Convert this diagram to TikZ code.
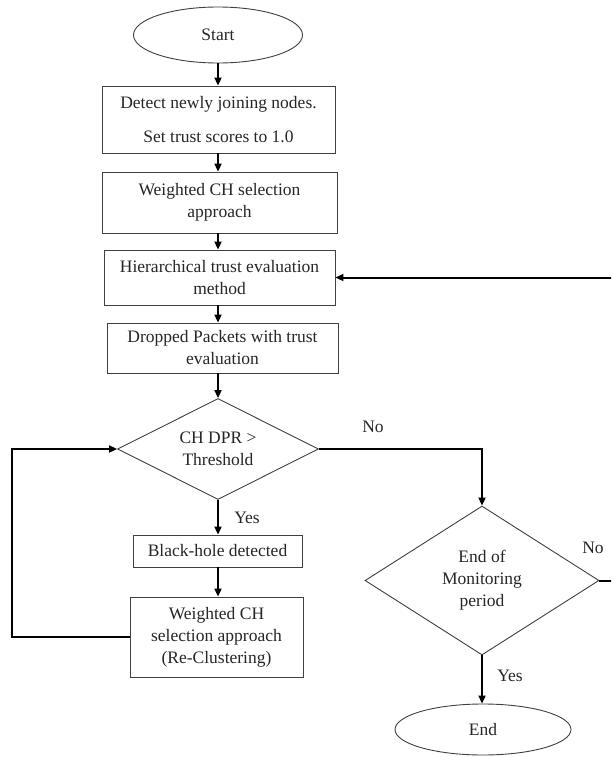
\documentclass[tikz,border=0pt]{standalone}
\usepackage{fontspec}
\setmainfont{Liberation Serif}
\usetikzlibrary{shapes.geometric,arrows.meta}
\begin{document}
\begin{tikzpicture}[x=1pt,y=-1pt,
  every node/.style={font=\fontsize{17.5}{22}\selectfont, text=black!85},
  procbox/.style={draw=black!75, line width=0.9pt, fill=white, rectangle, inner sep=0pt, align=center},
  termin/.style={draw=black!75, line width=0.9pt, fill=white, ellipse, inner sep=0pt},
  decide/.style={draw=black!75, line width=0.9pt, fill=white, diamond, aspect=2, inner sep=0pt, align=center},
  conn/.style={draw=black, line width=2pt, -{Triangle[length=8pt,width=7pt]}},
  lbl/.style={inner sep=0pt}]
\useasboundingbox (0,0) rectangle (611,757);
\fill[white] (0,0) rectangle (611,757);
\clip (0,0) rectangle (611,757);

\node[termin, minimum width=169pt, minimum height=56pt] (start) at (218,35) {Start};
\node[procbox, minimum width=233pt, minimum height=67pt] (b1) at (218.5,119.5) {Detect newly joining nodes.\\[12pt]Set trust scores to 1.0};
\node[procbox, minimum width=235pt, minimum height=61pt] (b2) at (219.5,202.5) {Weighted CH selection\\approach};
\node[procbox, minimum width=231pt, minimum height=55pt] (b3) at (219.5,277.5) {Hierarchical trust evaluation\\method};
\node[procbox, minimum width=231pt, minimum height=50pt] (b4) at (222.5,348) {Dropped Packets with trust\\evaluation};
\node[decide, minimum width=201pt, minimum height=101pt] (d1) at (218,449) {CH DPR {>}\\Threshold};
\node[procbox, minimum width=169pt, minimum height=32pt] (b5) at (217.5,551) {Black-hole detected};
\node[procbox, minimum width=173pt, minimum height=80pt] (b6) at (216.5,637) {Weighted CH\\selection approach\\(Re-Clustering)};
\node[decide, minimum width=234pt, minimum height=149pt] (d2) at (482,580.5) {End of\\Monitoring\\period};
\node[termin, minimum width=176pt, minimum height=51pt] (end) at (483,729.5) {End};

\coordinate (lp) at (12,637);
\coordinate (rp) at (640,580.5);

\draw[conn] (start.south) -- (start.south |- b1.north);
\draw[conn] (start.south |- b1.south) -- (start.south |- b2.north);
\draw[conn] (start.south |- b2.south) -- (start.south |- b3.north);
\draw[conn] (start.south |- b3.south) -- (start.south |- b4.north);
\draw[conn] (start.south |- b4.south) -- (d1.north);
\draw[conn] (d1.south) -- (d1.south |- b5.north);
\draw[conn] (d1.south |- b5.south) -- (d1.south |- b6.north);
\draw[conn] (b6.west) -- (lp) |- (d1.west);
\draw[conn] (d1.east) -| (d2.north);
\draw[conn] (d2.south) -- (d2.south |- end.north);
\draw[conn] (d2.east) -- (rp) |- (b3.east);

\node[lbl] (no1) at (373,427) {No};
\node[lbl] (yes1) at (247,518) {Yes};
\node[lbl] (no2) at (593,548) {No};
\node[lbl] (yes2) at (510,676) {Yes};
\end{tikzpicture}
\end{document}
